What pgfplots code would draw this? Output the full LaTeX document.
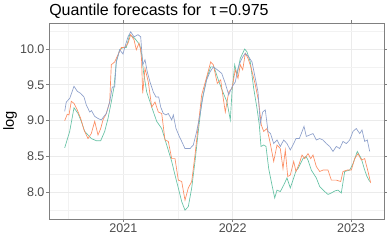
\documentclass[border=0pt]{standalone}
\usepackage{fontspec}
\setmainfont{Liberation Sans}
\usepackage{pgfplots}
\pgfplotsset{compat=1.18}
\definecolor{cgreen}{HTML}{66C2A5}
\definecolor{corange}{HTML}{FC8D62}
\definecolor{cpurple}{HTML}{8DA0CB}
\begin{document}
\begin{tikzpicture}
\useasboundingbox (-36.75pt,-15.75pt) rectangle (255pt,164.25pt);
\begin{axis}[
  at={(0,0)}, anchor=south west,
  scale only axis, width=251.25pt, height=147pt,
  xmin=49, xmax=384, ymin=7.627, ymax=10.363,
  xtick={123.3,232.7,351}, xticklabels={2021,2022,2023},
  minor xtick={68.3,178,291.8},
  ytick={8,8.5,9,9.5,10}, yticklabels={8.0,8.5,9.0,9.5,10.0},
  minor ytick={7.75,8.25,8.75,9.25,9.75,10.25},
  grid=both,
  major grid style={color=black!8, line width=0.5pt},
  minor grid style={color=black!5, line width=0.35pt},
  axis line style={color=black!50, line width=0.6pt},
  tick align=outside, major tick length=2.2pt, minor tick length=0pt,
  tick style={color=black!50, line width=0.5pt},
  ticklabel style={font=\fontsize{9.4}{11}\selectfont, text=black!70, inner sep=1pt},
  /pgf/number format/assume math mode=true,
]
\addplot[cgreen, line width=0.5pt, no markers] coordinates {
(64.7,8.62) (69.7,8.85) (74,9.18) (78,9.10) (81.3,8.99) (84.7,8.85) (88,8.80) (91.3,8.75)
(96.3,8.72) (100.7,8.72) (104.7,8.85) (108,9.03) (111.3,9.26) (114,9.47) (116.3,9.82)
(119.7,9.99) (123,10.02) (126.3,10.02) (129.7,10.20) (134.7,10.15) (139.7,10.06)
(142,9.90) (143.5,9.68) (146.7,9.40) (151.7,9.19) (156.7,8.99) (161.7,8.89) (166.7,8.66)
(171.7,8.43) (175,8.24) (178.3,8.06) (181.7,7.87) (185,7.75) (188.3,7.80) (191.7,8.06)
(195,8.43) (198.3,8.85) (201.7,9.26) (206.7,9.59) (210.7,9.75) (214,9.75) (218.3,9.57)
(222,9.43) (227,9.26) (230.3,9.01) (232,9.40) (234.7,9.78) (237,9.64) (240.3,9.87)
(244.7,10.00) (247,9.96) (250.3,9.82) (253.7,9.45) (257,9.17) (259.3,8.94) (261,8.64)
(263.7,8.66) (266,8.64) (268.7,8.33) (272,8.10) (274.7,7.92) (277,8.03) (280.3,8.01)
(283.7,8.10) (287,8.20) (290.3,8.06) (293.7,8.20) (296,8.30) (298,8.33) (303,8.47)
(306,8.50) (308,8.45) (311.3,8.31) (316.3,8.20) (319.7,8.08) (324.7,8.01) (328,7.97)
(331.3,7.99) (335,8.02) (338,8.03) (341.3,7.99) (344.7,8.29) (349.7,8.31) (353,8.40)
(357.3,8.57) (361.3,8.47) (364.7,8.31) (367,8.22) (369.7,8.15)
};
\addplot[corange, line width=0.5pt, no markers] coordinates {
(64.7,9.00) (67.3,9.09) (69,9.08) (71.3,9.27) (74,9.24) (77.3,9.15) (80.7,9.03) (84,8.87)
(88,8.75) (91.3,8.82) (94.7,8.99) (98,8.80) (100.7,8.89) (103,9.01) (106.3,9.10)
(109.7,9.26) (111.3,9.78) (114.7,9.82) (118,9.92) (121.3,10.02) (124.7,10.02) (128,10.08)
(130.7,10.20) (134,10.13) (136.3,9.99) (139,10.08) (140.5,10.00) (141.5,9.87) (142.7,9.38)
(145,9.73) (148.3,9.54) (151.7,9.19) (155,9.26) (158.3,9.12) (161.7,9.10) (165,8.73)
(168.3,8.71) (171.7,8.47) (175,8.47) (178.3,8.17) (181.7,8.15) (185,7.89) (188.3,8.06)
(191.7,8.15) (195,8.52) (198.3,8.94) (201.7,9.36) (206.7,9.61) (210.7,9.82) (213.3,9.78)
(217.3,9.52) (220.7,9.57) (222,9.43) (225.3,9.12) (228.7,9.40) (232,9.45) (235.3,9.71)
(238,9.59) (240.3,9.78) (242.7,9.71) (245.3,9.94) (248,9.87) (251.3,9.73) (255.3,9.50)
(258.7,9.26) (261.3,8.94) (263.7,8.85) (267,8.89) (270.3,8.68) (273.7,8.43) (277,8.66)
(280.3,8.61) (283,8.33) (285.3,8.59) (287.7,8.22) (290.3,8.24) (293.7,8.43) (296,8.29)
(299.3,8.40) (302,8.52) (304.7,8.47) (308,8.54) (310.7,8.47) (313,8.52) (316.3,8.36)
(319.7,8.29) (323,8.31) (328,8.31) (331.3,8.17) (336.3,8.17) (340.7,8.15) (343,8.29)
(347.3,8.31) (351.3,8.31) (354.7,8.47) (358,8.54) (361.3,8.45) (364.7,8.47) (368,8.29)
(370.7,8.13)
};
\addplot[cpurple, line width=0.5pt, no markers] coordinates {
(64.7,9.13) (66.3,9.26) (69.7,9.31) (72,9.40) (74,9.48) (77.3,9.41) (80.7,9.38) (84,9.33)
(86.3,9.22) (89.7,9.12) (91.5,9.14) (94.7,9.06) (98,9.03) (101.3,9.01) (104,9.06)
(106.3,9.10) (109.7,9.26) (112.3,9.47) (114.7,9.47) (116.3,9.82) (119.7,9.99) (123,9.93)
(124.7,10.02) (128,10.17) (130.7,10.24) (134,10.17) (138,10.20) (140.7,10.17) (142.7,9.78)
(145,9.85) (147.3,9.68) (150,9.54) (153.3,9.40) (156,9.33) (158.7,9.33) (160.7,9.19)
(163.3,9.10) (166,9.08) (168.3,9.10) (171.7,9.01) (173.3,9.08) (176,8.89) (179.3,8.78)
(181.7,8.71) (185,8.61) (190,8.61) (193.3,8.66) (196.7,8.85) (200,9.08) (203.3,9.36)
(206.7,9.57) (210,9.68) (213.3,9.75) (217.3,9.71) (221.7,9.66) (225.3,9.52) (228.7,9.36)
(232,9.47) (235.3,9.54) (238,9.73) (240.3,9.82) (242.7,9.89) (245.3,9.94) (248.7,9.89)
(252,9.82) (255.3,9.59) (258,9.40) (260.3,8.96) (262.7,9.12) (265.3,9.15) (268,8.85)
(270.5,8.82) (273.7,8.68) (277,8.73) (280.3,8.64) (283.7,8.73) (287,8.68) (290.3,8.59)
(293.7,8.68) (296,8.75) (299.3,8.75) (301.3,8.82) (304,8.92) (306.3,8.78) (309.7,8.80)
(313,8.82) (316.3,8.73) (319.7,8.75) (323,8.73) (326.3,8.68) (329.7,8.64) (333,8.57)
(336.3,8.64) (339.7,8.61) (343,8.71) (346.3,8.68) (349.7,8.73) (353,8.85) (356.3,8.89)
(359.7,8.82) (362,8.87) (364.7,8.71) (367.3,8.73) (369.7,8.57)
};
\end{axis}
\node[anchor=base west, inner sep=0pt, font=\fontsize{12}{14}\selectfont] at (0pt,152.25pt) {Quantile forecasts for\ \ τ\,=0.975};
\node[rotate=90, inner sep=0pt, font=\fontsize{11}{13}\selectfont] at (-29.25pt,73.5pt) {log};
\end{tikzpicture}
\end{document}
